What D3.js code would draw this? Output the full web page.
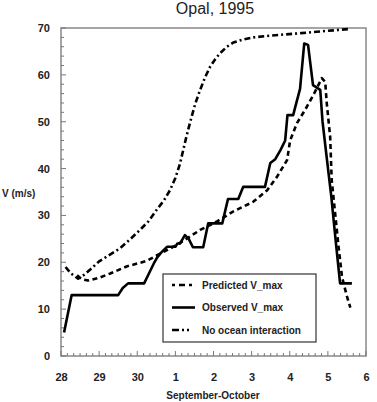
<!DOCTYPE html>
<html>
<head>
<meta charset="utf-8">
<script src="https://cdn.jsdelivr.net/npm/d3@7"></script>
<style>
  body { margin: 0; background: #fff; }
  text { font-family: "Liberation Sans", Arial, sans-serif; }
</style>
</head>
<body>
<div id="chart"></div>
<script>
// days since 28 Sep 00:00
var xTickValues = [0, 1, 2, 3, 4, 5, 6, 7, 8];
var xTickLabels = ["28", "29", "30", "1", "2", "3", "4", "5", "6"];
var yTickValues = [0, 10, 20, 30, 40, 50, 60, 70];

var predTime = [0.42, 0.55, 0.71, 1.0, 1.29, 1.72, 2.25, 2.52, 3.04, 3.65, 4.09, 4.51, 5.04, 5.41, 5.67, 5.93, 6.01, 6.19, 6.4, 6.62, 6.75, 6.84, 6.93, 6.97, 7.06, 7.10, 7.19, 7.28, 7.37, 7.50, 7.59];
var predV = [17.2, 16.4, 16.1, 16.7, 17.6, 19.1, 20.3, 21.5, 23.7, 26.9, 28.7, 30.8, 32.9, 35.4, 38.3, 41.8, 46.0, 49.7, 52.5, 55.7, 57.8, 59.3, 58.5, 54.0, 46.8, 37.6, 30.5, 23.3, 16.9, 12.7, 10.3];

var obsTime = [0.08, 0.28, 1.5, 1.62, 1.76, 2.18, 2.3, 2.45, 2.52, 2.62, 2.78, 3.0, 3.05, 3.12, 3.25, 3.35, 3.46, 3.73, 3.86, 4.23, 4.38, 4.65, 4.78, 5.35, 5.49, 5.62, 5.76, 5.88, 5.94, 6.09, 6.14, 6.27, 6.38, 6.48, 6.61, 6.8, 6.86, 6.96, 7.09, 7.2, 7.32, 7.63];
var obsV = [5.0, 13.0, 13.0, 14.5, 15.5, 15.5, 17.5, 20.0, 21.0, 22.0, 23.3, 23.3, 24.0, 24.0, 25.8, 25.0, 23.2, 23.2, 28.3, 28.3, 33.5, 33.5, 36.1, 36.1, 41.2, 42.0, 44.0, 46.0, 51.4, 51.4, 53.0, 57.0, 66.7, 66.4, 57.8, 56.8, 50.0, 43.0, 34.0, 25.0, 15.5, 15.5];

var noOceanTime = [0.12, 0.25, 0.45, 0.6, 0.76, 1.0, 1.2, 1.55, 1.8, 2.07, 2.3, 2.51, 2.7, 2.86, 3.0, 3.12, 3.28, 3.39, 3.52, 3.65, 3.78, 3.91, 4.05, 4.17, 4.35, 4.52, 4.75, 5.05, 5.4, 5.83, 6.3, 6.71, 7.15, 7.59];
var noOceanV = [19.0, 17.7, 16.5, 17.3, 18.4, 20.2, 21.2, 23.0, 24.8, 26.9, 28.8, 31.2, 33.2, 35.4, 38.0, 41.0, 46.5, 50.0, 53.8, 56.8, 59.5, 61.7, 63.4, 64.6, 66.0, 66.9, 67.5, 68.0, 68.3, 68.6, 68.9, 69.2, 69.5, 69.8];

var legendLabels = ["Predicted V_max", "Observed V_max", "No ocean interaction"];

function init() {
  var w = 377;
  var h = 402;
  var left = 61, right = 366, top = 28, bottom = 356;

  var xScale = d3.scaleLinear().domain([0, 8]).range([left, right]);
  var yScale = d3.scaleLinear().domain([0, 70]).range([bottom, top]);

  var svg = d3.select("#chart")
    .append("svg")
    .attr("width", w)
    .attr("height", h);

  // frame
  svg.append("rect")
    .attr("x", left)
    .attr("y", top)
    .attr("width", right - left)
    .attr("height", bottom - top)
    .attr("fill", "none")
    .attr("stroke", "#888")
    .attr("stroke-width", 1.5);

  // minor ticks
  var xMinor = d3.range(0, 8 * 6 + 1).map(function(i) { return i / 6; });
  svg.append("g")
    .selectAll("line")
    .data(xMinor)
    .enter()
    .append("line")
    .attr("x1", function(d) { return xScale(d); })
    .attr("x2", function(d) { return xScale(d); })
    .attr("y1", bottom)
    .attr("y2", function(d, i) { return i % 6 == 0 ? bottom - 5 : bottom - 3; })
    .attr("stroke", "#777")
    .attr("stroke-width", 1);

  var yMinor = d3.range(0, 36).map(function(i) { return i * 2; });
  svg.append("g")
    .selectAll("line")
    .data(yMinor)
    .enter()
    .append("line")
    .attr("x1", left)
    .attr("x2", function(d, i) { return i % 5 == 0 ? left + 5 : left + 3; })
    .attr("y1", function(d) { return yScale(d); })
    .attr("y2", function(d) { return yScale(d); })
    .attr("stroke", "#777")
    .attr("stroke-width", 1);

  // axes (labels only, ticks drawn above)
  var xAxis = d3.axisBottom(xScale)
    .tickValues(xTickValues)
    .tickFormat(function(d, i) { return xTickLabels[i]; })
    .tickSize(0)
    .tickPadding(17);
  var gx = svg.append("g")
    .attr("transform", "translate(0," + bottom + ")")
    .call(xAxis);
  gx.select(".domain").remove();
  gx.selectAll("text")
    .attr("font-size", 11)
    .attr("font-weight", "bold")
    .attr("fill", "#222");

  var yAxis = d3.axisLeft(yScale)
    .tickValues(yTickValues)
    .tickSize(0)
    .tickPadding(11);
  var gy = svg.append("g")
    .attr("transform", "translate(" + left + ",0)")
    .call(yAxis);
  gy.select(".domain").remove();
  gy.selectAll("text")
    .attr("font-size", 11)
    .attr("font-weight", "bold")
    .attr("fill", "#222");

  // series
  var line = d3.line()
    .x(function(d) { return xScale(d[0]); })
    .y(function(d) { return yScale(d[1]); });

  var series = [
    { t: predTime, v: predV, dash: "5,3.5" },
    { t: obsTime, v: obsV, dash: null },
    { t: noOceanTime, v: noOceanV, dash: "6,3,2,3" }
  ];

  series.forEach(function(s) {
    var pts = s.t.map(function(t, i) { return [t, s.v[i]]; });
    svg.append("path")
      .datum(pts)
      .attr("d", line)
      .attr("fill", "none")
      .attr("stroke", "#000")
      .attr("stroke-width", 2.6)
      .attr("stroke-linejoin", "round")
      .attr("stroke-dasharray", s.dash);
  });

  // legend
  svg.append("rect")
    .attr("x", 163)
    .attr("y", 274)
    .attr("width", 153)
    .attr("height", 68)
    .attr("fill", "#fff")
    .attr("stroke", "#333")
    .attr("stroke-width", 1.2);

  var legendDash = ["3,4,6,4,3", null, "7,3,2,3,2"];
  legendLabels.forEach(function(lab, i) {
    var ly = 285 + i * 22.5;
    svg.append("line")
      .attr("x1", 172)
      .attr("x2", 195)
      .attr("y1", ly)
      .attr("y2", ly)
      .attr("stroke", "#000")
      .attr("stroke-width", 2.6)
      .attr("stroke-dasharray", legendDash[i]);
    svg.append("text")
      .attr("x", 202)
      .attr("y", ly + 3.5)
      .attr("font-size", 10)
      .attr("font-weight", "bold")
      .attr("fill", "#222")
      .text(lab);
  });

  // titles
  svg.append("text")
    .attr("x", 215)
    .attr("y", 14)
    .attr("text-anchor", "middle")
    .attr("font-size", 16)
    .attr("fill", "#222")
    .text("Opal, 1995");

  svg.append("text")
    .attr("x", 213)
    .attr("y", 399)
    .attr("text-anchor", "middle")
    .attr("font-size", 10)
    .attr("font-weight", "bold")
    .attr("fill", "#222")
    .text("September-October");

  svg.append("text")
    .attr("x", 2)
    .attr("y", 197)
    .attr("font-size", 10)
    .attr("font-weight", "bold")
    .attr("fill", "#222")
    .text("V (m/s)");
}

window.onload = init;
</script>
</body>
</html>
